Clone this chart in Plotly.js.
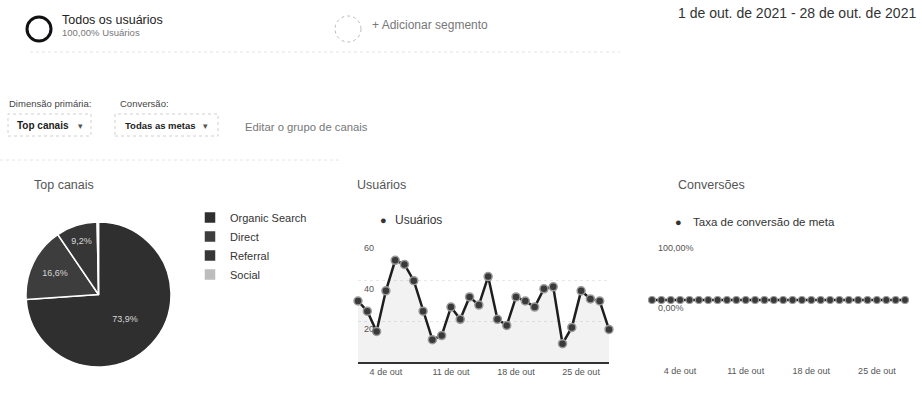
<!DOCTYPE html>
<html>
<head>
<meta charset="utf-8">
<script src="https://cdn.plot.ly/plotly-3.0.1.min.js"></script>
<style>
  html, body { margin: 0; padding: 0; background: #fff; }
  #chart { width: 922px; height: 410px; }
</style>
</head>
<body>
<div id="chart"></div>
<script>
// ---------- DATA ----------
const channels = ['Organic Search', 'Direct', 'Referral', 'Social'];
const channelShare = [73.9, 16.6, 9.2, 0.3];

const days = ['2021-10-01','2021-10-02','2021-10-03','2021-10-04','2021-10-05','2021-10-06','2021-10-07',
              '2021-10-08','2021-10-09','2021-10-10','2021-10-11','2021-10-12','2021-10-13','2021-10-14',
              '2021-10-15','2021-10-16','2021-10-17','2021-10-18','2021-10-19','2021-10-20','2021-10-21',
              '2021-10-22','2021-10-23','2021-10-24','2021-10-25','2021-10-26','2021-10-27','2021-10-28'];
const users = [30,25,15,35,50,48,40,25,11,13,27,21,32,28,42,21,18,32,30,27,36,37,9,17,35,31,30,16];
const goalConversionRate = [0,0,0,0,0,0,0,0,0,0,0,0,0,0,0,0,0,0,0,0,0,0,0,0,0,0,0,0];

const xTickVals = ['2021-10-04','2021-10-11','2021-10-18','2021-10-25'];
const xTickText = ['4 de out','11 de out','18 de out','25 de out'];
const usersTickVals = [20, 40, 60];
const usersTickText = ['20', '40', '60'];
const convTickVals = [0, 1];
const convTickText = ['0,00%', '100,00%'];

// ---------- LAYOUT HELPERS ----------
const W = 922, H = 410;
const px = x => x / W;
const py = y => 1 - y / H;
const FONT = 'Liberation Sans, Arial, sans-serif';

function txt(text, x, y, size, color, anchor, extra) {
  return Object.assign({
    text: text, xref: 'paper', yref: 'paper', x: px(x), y: py(y),
    xanchor: anchor || 'left', yanchor: 'middle', showarrow: false,
    font: { family: FONT, size: size, color: color }
  }, extra || {});
}

// y tick labels drawn inside the plot, just below each gridline
function insideTicks(vals, labels, xa, ya) {
  return vals.map((v, i) => ({
    text: labels[i], xref: xa + ' domain', yref: ya, x: 0, y: v,
    xanchor: 'left', yanchor: 'middle', xshift: 4, yshift: -8, showarrow: false,
    font: { family: FONT, size: 9, color: '#555' }
  }));
}

const traces = [
  {
    type: 'pie',
    labels: channels,
    values: channelShare,
    sort: false,
    direction: 'clockwise',
    rotation: 0,
    domain: { x: [px(26), px(171)], y: [py(367), py(222)] },
    marker: { colors: ['#2f2f2f', '#3d3d3d', '#363636', '#bdbdbd'], line: { color: '#ffffff', width: 1.5 } },
    texttemplate: ['%{percent:.1%}', '%{percent:.1%}', '%{percent:.1%}', ''],
    textposition: 'inside',
    insidetextorientation: 'horizontal',
    textfont: { family: FONT, size: 9, color: '#d6d6d6' },
    hoverinfo: 'label+percent',
    showlegend: true
  },
  {
    type: 'scatter', mode: 'lines+markers',
    x: days, y: users, xaxis: 'x', yaxis: 'y',
    name: 'Usuários', showlegend: false, cliponaxis: false,
    fill: 'tozeroy', fillcolor: 'rgba(0,0,0,0.05)',
    line: { color: '#1e1e1e', width: 2.5 },
    marker: { size: 8, color: '#3a3a3a', line: { color: '#9a9a9a', width: 1.5 } }
  },
  {
    type: 'scatter', mode: 'lines+markers',
    x: days, y: goalConversionRate, xaxis: 'x2', yaxis: 'y2',
    name: 'Taxa de conversão de meta', showlegend: false, cliponaxis: false,
    line: { color: '#1e1e1e', width: 2.5 },
    marker: { size: 7, color: '#3a3a3a', line: { color: '#9a9a9a', width: 1.2 } }
  }
];

const layout = {
  width: W, height: H,
  margin: { l: 0, r: 0, t: 0, b: 0, pad: 0 },
  paper_bgcolor: '#ffffff', plot_bgcolor: 'rgba(0,0,0,0)',
  separators: ',.',
  font: { family: FONT, color: '#333' },
  showlegend: true,
  legend: {
    x: px(190), y: py(203), xanchor: 'left', yanchor: 'top',
    font: { family: FONT, size: 11, color: '#333' },
    bgcolor: 'rgba(0,0,0,0)', itemclick: false
  },
  xaxis: {
    domain: [px(358), px(609)], anchor: 'y',
    type: 'date', range: ['2021-10-01', '2021-10-28'],
    tickvals: xTickVals, ticktext: xTickText,
    showgrid: false, zeroline: false,
    showline: true, linecolor: '#333', linewidth: 1.5,
    ticks: '', ticklabelstandoff: 1,
    tickfont: { family: FONT, size: 9, color: '#555' }
  },
  yaxis: {
    domain: [py(362), py(240)], anchor: 'x',
    range: [0, 60], tickvals: usersTickVals, showticklabels: false,
    showgrid: true, gridcolor: '#e8e8e8', griddash: 'dot', zeroline: false, showline: false
  },
  xaxis2: {
    domain: [px(652), px(905)], anchor: 'y2',
    type: 'date', range: ['2021-10-01', '2021-10-28'],
    tickvals: xTickVals, ticktext: xTickText,
    showgrid: false, zeroline: false, showline: false,
    ticks: '', ticklabelstandoff: 4,
    tickfont: { family: FONT, size: 9, color: '#555' }
  },
  yaxis2: {
    domain: [py(360), py(240)], anchor: 'x2',
    range: [-1, 1], tickvals: convTickVals, showticklabels: false,
    showgrid: true, gridcolor: '#e8e8e8', griddash: 'dot', zeroline: false, showline: false
  },
  shapes: [
    { type: 'circle', xref: 'paper', yref: 'paper', x0: px(27), x1: px(51), y0: py(41), y1: py(17),
      line: { color: '#111', width: 3 } },
    { type: 'circle', xref: 'paper', yref: 'paper', x0: px(335), x1: px(361), y0: py(42), y1: py(16),
      line: { color: '#bbb', width: 1, dash: 'dot' } },
    { type: 'line', xref: 'paper', yref: 'paper', x0: px(30), x1: px(620), y0: py(52), y1: py(52),
      line: { color: '#e4e4e4', width: 1, dash: 'dot' } },
    { type: 'rect', xref: 'paper', yref: 'paper', x0: px(8), x1: px(91), y0: py(136), y1: py(114),
      line: { color: '#d0d0d0', width: 1, dash: 'dot' } },
    { type: 'rect', xref: 'paper', yref: 'paper', x0: px(115), x1: px(218), y0: py(136), y1: py(114),
      line: { color: '#d0d0d0', width: 1, dash: 'dot' } },
    { type: 'line', xref: 'paper', yref: 'paper', x0: 0, x1: px(340), y0: py(160), y1: py(160),
      line: { color: '#e4e4e4', width: 1, dash: 'dot' } }
  ],
  annotations: [
    txt('Todos os usuários', 60, 20, 12.5, '#222'),
    txt('100,00% Usuários', 60, 33, 9.5, '#777'),
    txt('+ Adicionar segmento', 370, 25, 12, '#777'),
    txt('1 de out. de 2021 - 28 de out. de 2021', 918, 13, 14, '#333', 'right'),
    txt('Dimensão primária:', 7, 103, 9.5, '#444'),
    txt('Conversão:', 118, 103, 9.5, '#444'),
    txt('<b>Top canais</b>', 15, 125, 10, '#222'),
    txt('▾', 80, 126, 9, '#555', 'center'),
    txt('<b>Todas as metas</b>', 123, 125, 9.5, '#222'),
    txt('▾', 205, 126, 9, '#555', 'center'),
    txt('Editar o grupo de canais', 243, 127, 11.3, '#777'),
    txt('Top canais', 32, 185, 12.5, '#555'),
    txt('Usuários', 355, 185, 12.5, '#555'),
    txt('Conversões', 676, 185, 12.5, '#555'),
    txt('●', 383, 220, 11, '#333', 'center'),
    txt('Usuários', 393, 220, 12, '#333'),
    txt('●', 678, 222, 11, '#333', 'center'),
    txt('Taxa de conversão de meta', 691, 222, 11.5, '#333')
  ].concat(insideTicks(usersTickVals, usersTickText, 'x', 'y'))
   .concat(insideTicks(convTickVals, convTickText, 'x2', 'y2'))
};

Plotly.newPlot('chart', traces, layout, { displayModeBar: false, staticPlot: true });
</script>
</body>
</html>
